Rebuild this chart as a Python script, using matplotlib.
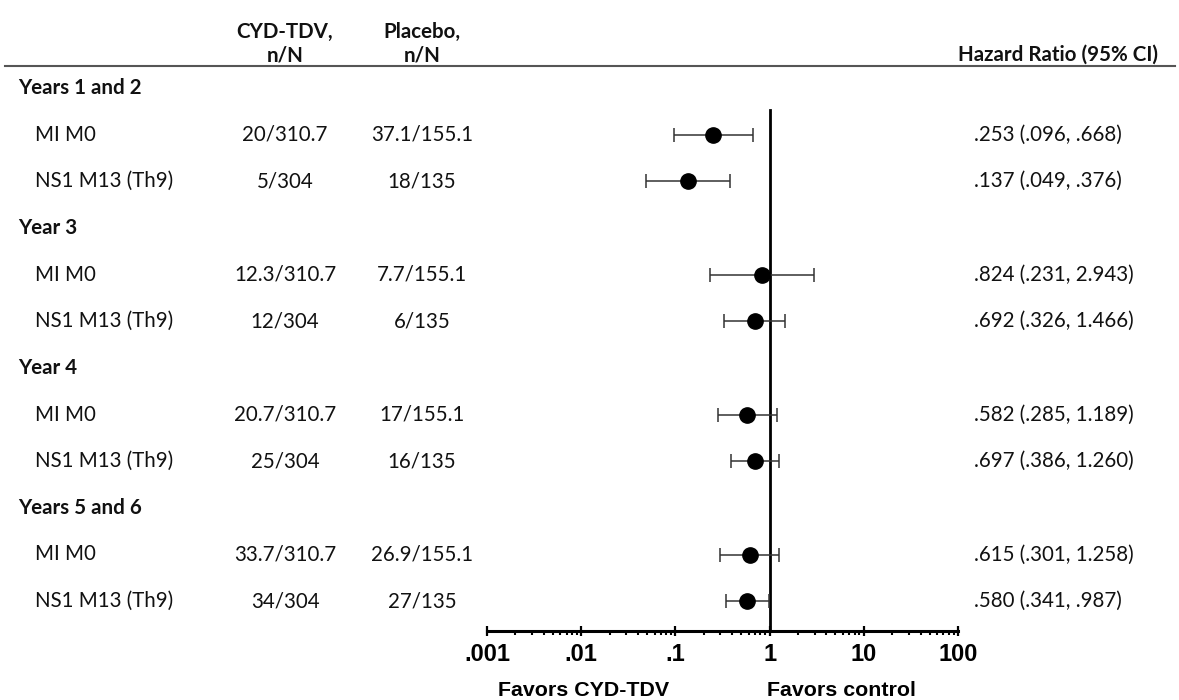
import numpy as np
import matplotlib
matplotlib.use("Agg")
import matplotlib.pyplot as plt
from matplotlib.transforms import blended_transform_factory
from matplotlib.lines import Line2D
from matplotlib.ticker import FixedLocator, LogLocator, NullFormatter, FuncFormatter

# ---- data ----
groups = ["Years 1 and 2", "Year 3", "Year 4", "Years 5 and 6"]
subgroups = ["MI M0", "NS1 M13 (Th9)"]
cyd_nN = ["20/310.7", "5/304", "12.3/310.7", "12/304",
          "20.7/310.7", "25/304", "33.7/310.7", "34/304"]
pbo_nN = ["37.1/155.1", "18/135", "7.7/155.1", "6/135",
          "17/155.1", "16/135", "26.9/155.1", "27/135"]
hr = [0.253, 0.137, 0.824, 0.692, 0.582, 0.697, 0.615, 0.580]
hr_lo = [0.096, 0.049, 0.231, 0.326, 0.285, 0.386, 0.301, 0.341]
hr_hi = [0.668, 0.376, 2.943, 1.466, 1.189, 1.260, 1.258, 0.987]
hr_txt = [".253 (.096, .668)", ".137 (.049, .376)", ".824 (.231, 2.943)",
          ".692 (.326, 1.466)", ".582 (.285, 1.189)", ".697 (.386, 1.260)",
          ".615 (.301, 1.258)", ".580 (.341, .987)"]
tick_vals = [0.001, 0.01, 0.1, 1, 10, 100]
tick_labels = [".001", ".01", ".1", "1", "10", "100"]

W, H = 1179, 700
body_font = "Lato"
fs = 14.8

fig = plt.figure(figsize=(W / 100, H / 100), dpi=100)

def fx(px):
    return px / W

def fy(py):
    return 1 - py / H

ax = fig.add_axes([fx(487), fy(631), fx(958) - fx(487), fy(66) - fy(631)])
ax.set_xscale("log")
ax.set_xlim(0.001, 100)
# row i sits at data y = i ; row 0 = first group header
row_h = 46.65
ax.set_ylim((631 - 88) / row_h, (66 - 88) / row_h)

# row layout
rows_y = []
group_y = []
r = 0
for g in groups:
    group_y.append(r)
    r += 1
    for s in subgroups:
        rows_y.append(r)
        r += 1
rows_y = np.array(rows_y)
hr = np.array(hr)
xerr = np.vstack([hr - np.array(hr_lo), np.array(hr_hi) - hr])

ax.errorbar(hr, rows_y, xerr=xerr, fmt="o", color="black", ecolor="#333333",
            elinewidth=1.1, capsize=4.7, capthick=1.1, markersize=11, zorder=3)

# line of no effect
ax.plot([1, 1], [(110 - 88) / row_h, ax.get_ylim()[0]], color="black", lw=2, zorder=2)

for sp in ["left", "top", "right"]:
    ax.spines[sp].set_visible(False)
ax.spines["bottom"].set_linewidth(2.2)
ax.set_yticks([])
ax.xaxis.set_major_locator(FixedLocator(tick_vals))
ax.xaxis.set_major_formatter(FuncFormatter(lambda v, p: tick_labels[tick_vals.index(v)] if v in tick_vals else ""))
ax.xaxis.set_minor_locator(LogLocator(base=10, subs=np.arange(2, 10)))
ax.xaxis.set_minor_formatter(NullFormatter())
ax.tick_params(axis="x", which="major", direction="inout", length=7, width=1.6, pad=5,
               labelsize=17)
ax.tick_params(axis="x", which="minor", direction="out", length=2.6, width=1.5)
for lab in ax.get_xticklabels():
    lab.set_fontfamily("Liberation Sans")
    lab.set_fontweight("bold")

# table text
tr = blended_transform_factory(fig.transFigure, ax.transData)
for g, y in zip(groups, group_y):
    fig.text(fx(18), y, g, transform=tr, ha="left", va="center", fontsize=fs,
             fontweight="bold", family=body_font, color="#111111")
for i, y in enumerate(rows_y):
    fig.text(fx(35), y, subgroups[i % 2], transform=tr, ha="left", va="center",
             fontsize=fs, family=body_font, color="#111111")
    fig.text(fx(285), y, cyd_nN[i], transform=tr, ha="center", va="center",
             fontsize=fs, family=body_font, color="#111111")
    fig.text(fx(422), y, pbo_nN[i], transform=tr, ha="center", va="center",
             fontsize=fs, family=body_font, color="#111111")
    fig.text(fx(974), y, hr_txt[i], transform=tr, ha="left", va="center",
             fontsize=fs, family=body_font, color="#111111")

# column headers
hdr = dict(fontsize=fs, fontweight="bold", family=body_font, color="#111111", va="center")
fig.text(fx(285), fy(32), "CYD-TDV,", ha="center", **hdr)
fig.text(fx(285), fy(55), "n/N", ha="center", **hdr)
fig.text(fx(422), fy(32), "Placebo,", ha="center", **hdr)
fig.text(fx(422), fy(55), "n/N", ha="center", **hdr)
fig.text(fx(1158), fy(55), "Hazard Ratio (95% CI)", ha="right", **hdr)

fig.add_artist(Line2D([fx(5), fx(1175)], [fy(66), fy(66)], color="#555555", lw=1.5,
                      transform=fig.transFigure))

# direction labels
fig.text(fx(584), fy(690), "Favors CYD-TDV", ha="center", va="center", fontsize=15.4,
         fontweight="bold", family="Liberation Sans")
fig.text(fx(841), fy(690), "Favors control", ha="center", va="center", fontsize=15.4,
         fontweight="bold", family="Liberation Sans")

fig.savefig("out.png", dpi=100)
